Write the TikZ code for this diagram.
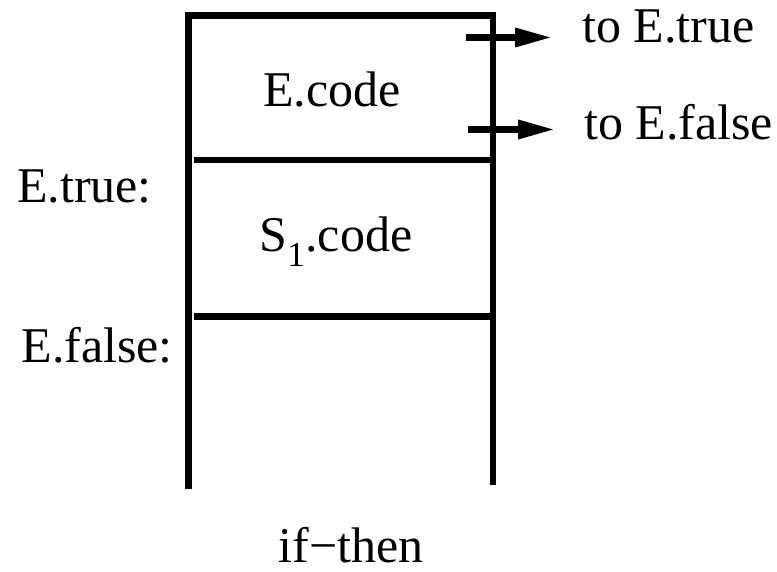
\documentclass[tikz,border=0pt]{standalone}
\usepackage{fontspec}
\setmainfont{Liberation Serif}
\usepackage{tikz}
\usetikzlibrary{arrows.meta}

\tikzset{
    wall/.style={line width=6.5pt, line join=miter},
    jump/.style={line width=6.5pt, -{Triangle[length=37pt,width=18pt]}},
    lbl/.style={anchor=base, inner sep=0pt, font=\fontsize{50}{58}\selectfont}
}

\begin{document}
\begin{tikzpicture}[x=1pt, y=-1pt]
        \useasboundingbox (0, 0) rectangle (777, 572);

        % frame
        \draw [wall] (188.5, 489) -- (188.5, 15.5) -- (493, 15.5) -- (493, 485);
        \draw [wall] (194, 160) -- (493, 160);
        \draw [wall] (194, 316.5) -- (493, 316.5);

        % block texts
        \node [lbl] (ecode) at (332, 107) {E.code};
        \node [lbl] (scode) at (336, 252) {S\textsubscript{1}.code};

        % labels on the left
        \node [lbl, anchor=base east] (etrue) at (152, 203) {E.true:};
        \node [lbl, anchor=base east] (efalse) at (173, 362) {E.false:};

        % jumps
        \coordinate (jt) at (466, 37.5);
        \coordinate (jtend) at (552, 37.5);
        \coordinate (jf) at (468, 129.5);
        \coordinate (jfend) at (555, 129.5);
        \draw [jump] (jt) -- (jtend);
        \draw [jump] (jf) -- (jfend);
        \node [lbl, anchor=base west] (totrue) at (582, 43) {to E.true};
        \node [lbl, anchor=base west] (tofalse) at (584, 140) {to E.false};

        % caption
        \node [lbl] (caption) at (351, 562) {if−then};
    \end{tikzpicture}
\end{document}
